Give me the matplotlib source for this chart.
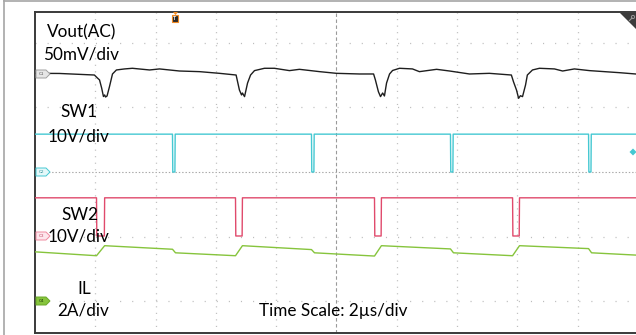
import matplotlib
matplotlib.use("Agg")
import matplotlib.pyplot as plt
from matplotlib.patches import Polygon, Rectangle

plt.rcParams['font.family'] = ['Lato', 'DejaVu Sans']
plt.rcParams['lines.scale_dashes'] = False

# ---------------- data (time in µs) ----------------
vout_t = [-10.02, -9.19, -8.03, -7.93, -7.86, -7.79, -7.73, -7.69, -7.66, -7.61, -7.53, -7.43,
          -7.30, -7.03, -6.77, -6.20, -5.87, -5.21, -4.54, -3.88, -3.33, -3.22, -3.15, -3.12,
          -3.05, -2.95, -2.85, -2.72, -2.39, -2.06, -1.56, -1.23, -0.56, 0.00, 0.76, 1.23,
          1.29, 1.39, 1.46, 1.53, 1.59, 1.66, 1.76, 1.86, 2.09, 2.52, 2.75, 3.32, 3.75, 4.41,
          5.07, 5.80, 5.87, 5.97, 6.04, 6.10, 6.17, 6.27, 6.33, 6.50, 6.73, 7.23, 7.50, 7.89,
          8.39, 8.89, 9.39, 9.92]
vout_mv = [0.5, 0.4, -0.8, -3.1, -4.6, -10.8, -17.4, -16.2, -17.8, -17.0, -9.8, 0.0,
           3.1, 3.9, 4.4, 3.1, 3.9, 2.3, 1.8, 0.5, -0.8, -12.4, -16.2, -14.7,
           -17.5, -7.0, -0.8, 2.6, 4.4, 4.4, 2.6, 3.6, 1.8, 0.5, 0.0, 0.0,
           -4.6, -13.7, -17.5, -14.7, -17.0, -7.0, 0.0, 2.7, 4.4, 3.9, 1.8, 3.6, 2.3, 0.0,
           0.5, -0.8, -6.0, -12.4, -18.8, -16.8, -17.5, -8.5, -0.8, 3.1, 4.4, 3.9, 2.3, 3.9,
           2.6, 1.8, 1.0, 0.0]

sw1_t = [-10.0, -5.44, -5.43, -5.36, -5.35, -0.83, -0.82, -0.75, -0.74, 3.78, 3.79, 3.86,
         3.87, 8.36, 8.37, 8.44, 8.45, 9.92]
sw1_v = [5.85, 5.85, 0.0, 0.0, 5.85, 5.85, 0.0, 0.0, 5.85, 5.85, 0.0, 0.0,
         5.85, 5.85, 0.0, 0.0, 5.85, 5.85]

sw2_t = [-10.0, -7.96, -7.95, -7.70, -7.69, -3.35, -3.34, -3.13, -3.12, 1.26, 1.27, 1.48,
         1.49, 5.84, 5.85, 6.06, 6.07, 9.92]
sw2_v = [5.9, 5.9, 0.0, 0.0, 5.9, 5.9, 0.0, 0.0, 5.9, 5.9, 0.0, 0.0,
         5.9, 5.9, 0.0, 0.0, 5.9, 5.9]

il_t = [-10.0, -7.96, -7.69, -5.44, -5.34, -3.35, -3.12, -0.83, -0.73, 1.26, 1.49, 3.78,
        3.88, 5.84, 6.07, 8.36, 8.46, 9.92]
il_a = [1.55, 1.43, 1.74, 1.63, 1.52, 1.43, 1.74, 1.62, 1.52, 1.42, 1.74, 1.64,
        1.52, 1.43, 1.74, 1.65, 1.52, 1.45]

labels = {
    'vout': ['Vout(AC)', '50mV/div'],
    'sw1': ['SW1', '10V/div'],
    'sw2': ['SW2', '10V/div'],
    'il': ['IL', '2A/div'],
}
time_label = 'Time Scale: 2µs/div'

# ---------------- scope settings ----------------
VOUT_SCALE, SW_SCALE, IL_SCALE = 50.0, 10.0, 2.0
C1_OFF, C2_OFF, C3_OFF, C4_OFF = 1.515, 0.0, -0.989, -2.009

COL_VOUT = '#1e1e1e'
COL_SW1 = '#45c8d2'
COL_SW2 = '#e04a6c'
COL_IL = '#86c43c'

W, H = 636, 335
fig = plt.figure(figsize=(W / 100, H / 100), dpi=100)
fig.patch.set_facecolor('white')

# main scope axes
L, T, R, B = 35, 12, 638, 333
ax = fig.add_axes([L / W, (H - B) / H, (R - L) / W, (B - T) / H])
ax.set_xlim(-10.0, 10.0)
ax.set_ylim((172 - B) / 64.7, (172 - T) / 64.7)
ax.set_xticks([])
ax.set_yticks([])
for s in ['left', 'top', 'bottom']:
    ax.spines[s].set_color('#3a3a3a')
    ax.spines[s].set_linewidth(1.4)
ax.spines['right'].set_visible(False)

# grid
for t in [-8, -6, -4, -2, 2, 4, 6, 8]:
    ax.axvline(t, color='#bdbdbd', lw=0.9, ls=(0, (0.8, 3.9)), zorder=1)
for d in [-2, -1, 1, 2]:
    ax.axhline(d, color='#bdbdbd', lw=0.9, ls=(0, (0.8, 7.9)), zorder=1)
ax.axvline(0, color='#9a9a9a', lw=0.8, ls=(0, (2.5, 1.8)), zorder=1)
ax.axhline(0, color='#a8a8a8', lw=0.8, ls=(0, (1.0, 1.4)), zorder=1)

# traces
ax.plot(vout_t, [C1_OFF + v / VOUT_SCALE for v in vout_mv], color=COL_VOUT, lw=1.0, zorder=3)
ax.plot(sw1_t, [C2_OFF + v / SW_SCALE for v in sw1_v], color=COL_SW1, lw=1.0, zorder=3)
ax.plot(sw2_t, [C3_OFF + v / SW_SCALE for v in sw2_v], color=COL_SW2, lw=1.0, zorder=3)
ax.plot(il_t, [C4_OFF + v / IL_SCALE for v in il_a], color=COL_IL, lw=1.0, zorder=3)

# overlay in pixel coordinates for decorations
ov = fig.add_axes([0, 0, 1, 1], zorder=5)
ov.set_xlim(0, W)
ov.set_ylim(H, 0)
ov.axis('off')
ov.patch.set_alpha(0)

# outer frame lines
ov.plot([3.5, 3.5], [0, H], color='#a6a6a6', lw=1.2)
ov.plot([3.5, W], [0.8, 0.8], color='#a6a6a6', lw=1.2)

# channel tags
def tag(yc, face, edge, txt, tcol):
    pts = [(36, yc - 4), (46, yc - 4), (50, yc), (46, yc + 4), (36, yc + 4)]
    ov.add_patch(Polygon(pts, closed=True, facecolor=face, edgecolor=edge, lw=0.7))
    ov.text(41.5, yc + 0.3, txt, fontsize=3.2, color=tcol, ha='center', va='center')

tag(74, '#e6e6e6', '#a0a0a0', 'C1', '#555555')
tag(172, '#e4f8f9', COL_SW1, 'C2', '#2a8e96')
tag(236, '#fde6ec', '#f08aa0', 'C3', '#c04060')
tag(301, COL_IL, '#6aa82a', 'C4', '#1e3a08')

# trigger marker
ov.add_patch(Polygon([(173, 12), (178, 12), (175.5, 15)], closed=True,
                     facecolor='#f08a24', edgecolor='none'))
ov.add_patch(Rectangle((172, 15), 6, 7, facecolor='#2a2a2a', edgecolor='#f08a24', lw=0.8))
ov.text(175, 18.7, 'T', fontsize=4, color='white', ha='center', va='center', fontweight='bold')

# zoom corner
ov.add_patch(Polygon([(620, 13), (636, 13), (636, 29)], closed=True,
                     facecolor='#3c3c3c', edgecolor='none'))
ov.plot([629.5, 632], [20.5, 18], color='#9a9a9a', lw=0.8)
ov.add_patch(plt.Circle((633, 17), 1.6, facecolor='none', edgecolor='#9a9a9a', lw=0.7))

# trigger level arrow (cyan)
ov.add_patch(Polygon([(629.5, 152), (633, 148.5), (636.5, 152), (633, 155.5)], closed=True,
                     facecolor=COL_SW1, edgecolor='none'))

# labels
fs = 12.3
tc = '#000000'
ov.text(82, 32, labels['vout'][0], fontsize=fs, ha='center', va='center', color=tc)
ov.text(81, 54, labels['vout'][1], fontsize=fs, ha='center', va='center', color=tc)
ov.text(79, 112, labels['sw1'][0], fontsize=fs, ha='center', va='center', color=tc)
ov.text(79, 136, labels['sw1'][1], fontsize=fs, ha='center', va='center', color=tc)
ov.text(80, 215, labels['sw2'][0], fontsize=fs, ha='center', va='center', color=tc)
ov.text(79, 237, labels['sw2'][1], fontsize=fs, ha='center', va='center', color=tc)
ov.text(84, 289, labels['il'][0], fontsize=fs, ha='center', va='center', color=tc)
ov.text(83, 310, labels['il'][1], fontsize=fs, ha='center', va='center', color=tc)
ov.text(333, 311, time_label, fontsize=fs, ha='center', va='center', color=tc)

fig.savefig('out.png', dpi=100, facecolor='white')
